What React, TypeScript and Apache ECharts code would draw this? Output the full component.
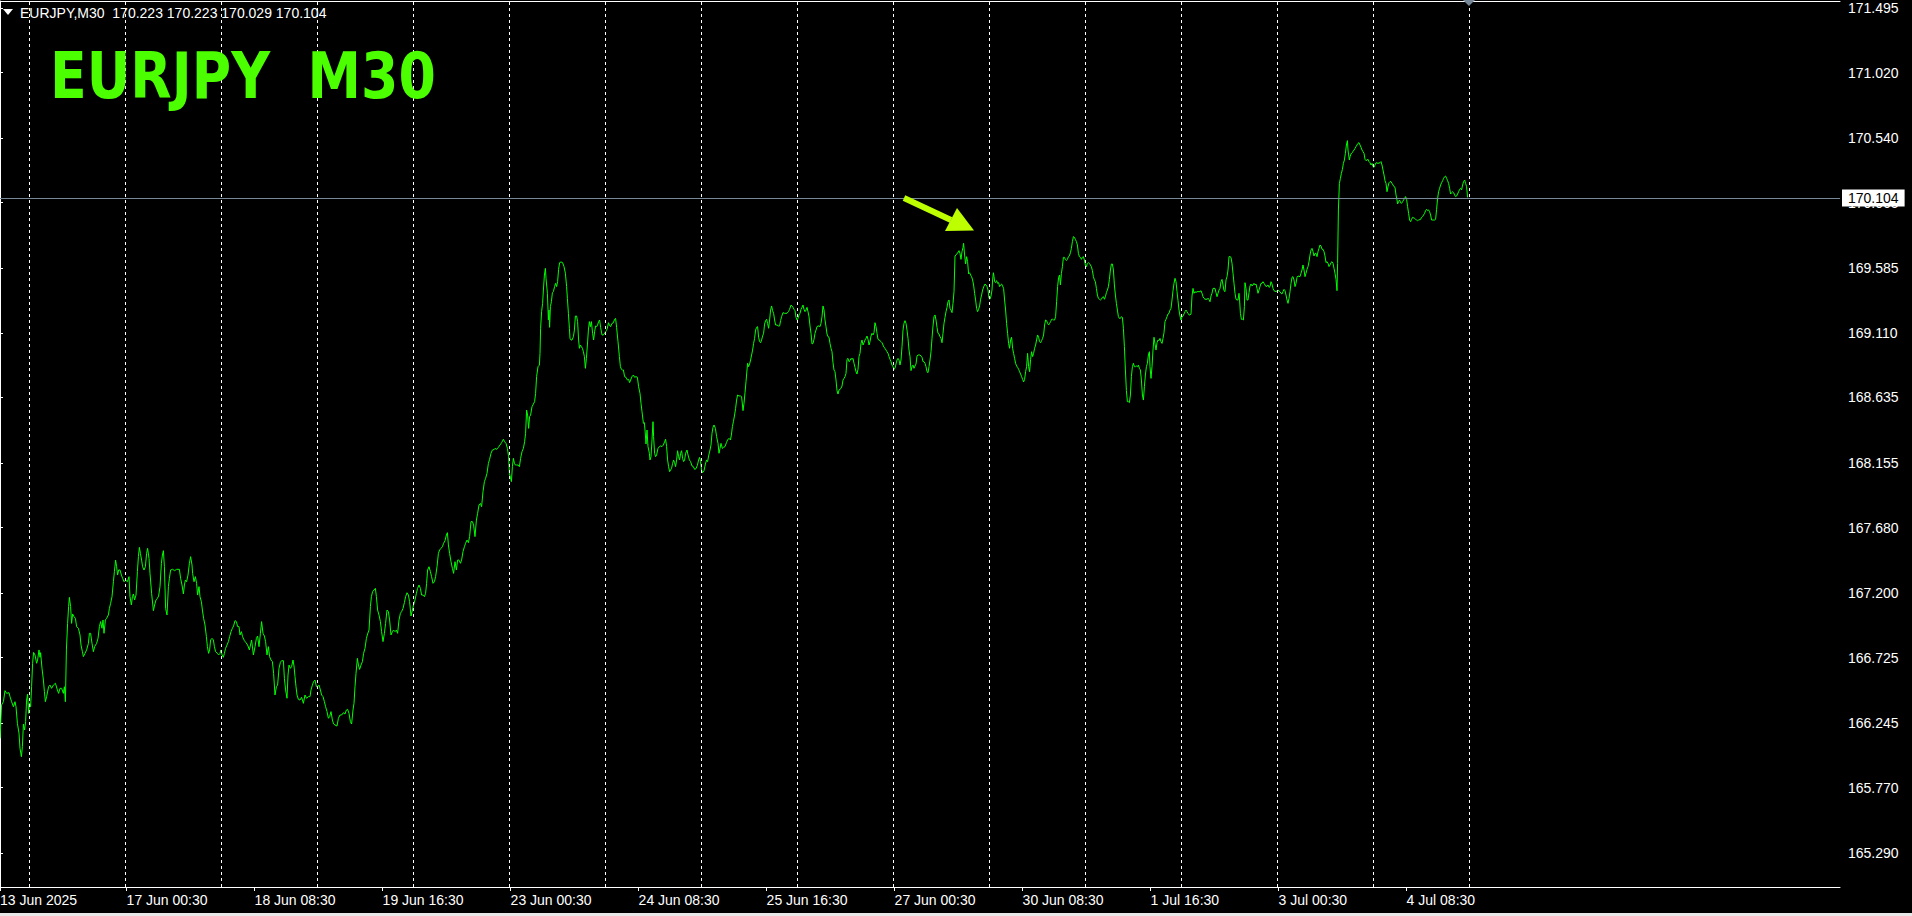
import React, { useEffect, useRef } from "react";
import * as echarts from "echarts";

// ---------- data ----------
const symbolName = "EURJPY";
const timeframe = "M30";
const lastBarOHLC = [170.223, 170.223, 170.029, 170.104];
const lastPrice = 170.104;
const priceMin = 165.0401;
const priceMax = 171.5464;
const barMax = 920; // visible bar slots (2 px per slot)

const priceTicks = [171.495, 171.02, 170.54, 170.065, 169.585, 169.11, 168.635, 168.155, 167.68, 167.2, 166.725, 166.245, 165.77, 165.29];

const timeLabelPos = [0, 63.3, 127.3, 191.3, 255.3, 319.3, 383.3, 447.3, 511.3, 575.3, 639.3, 703.3];
const timeLabels = ["13 Jun 2025", "17 Jun 00:30", "18 Jun 08:30", "19 Jun 16:30", "23 Jun 00:30", "24 Jun 08:30", "25 Jun 16:30", "27 Jun 00:30", "30 Jun 08:30", "1 Jul 16:30", "3 Jul 00:30", "4 Jul 08:30"];

const dayGridPos = [14.7, 62.7, 110.7, 158.7, 206.7, 254.7, 302.7, 350.7, 398.7, 446.7, 494.7, 542.7, 590.7, 638.7, 686.7, 734.7];

// [bar position, close]
const closeWeek1: number[][] = [
[0,166.132],[0.5,166.291],[0.8,166.377],[1.7,166.401],[2.5,166.482],[3.3,166.462],[4.5,166.467],[5,166.438],[5.8,166.401],[6.7,166.364],[7.5,166.401],[8,166.364],[8.7,166.242],[9.5,166.169],[10,166.058],[10.7,165.997],[11.2,166.071],[11.7,166.237],[12.3,166.193],[12.8,166.254],[13.3,166.413],[13.8,166.457],[14.3,166.315],[14.7,166.389],[15.3,166.364],[15.8,166.511],[16.3,166.683],[16.8,166.763],[17.5,166.744],[18.3,166.683],[18.8,166.707],[19.5,166.781],[20,166.727],[20.3,166.761],[21,166.646],[21.7,166.56],[22.2,166.475],[22.7,166.401],[23.3,166.438],[24.3,166.511],[25,166.523],[25.8,166.499],[26.7,166.523],[27.7,166.536],[28.7,166.487],[29.3,166.462],[30,166.499],[30.8,166.499],[31.7,166.462],[32.2,166.511],[32.7,166.401],[33.2,166.781],[33.8,166.976],[34.3,167.099],[34.7,167.167],[35.3,167.099],[35.8,166.976],[36.3,167.045],[37,167.025],[37.7,167.013],[38.3,166.952],[39.2,166.94],[40,166.891],[40.5,166.817],[41.2,166.768],[41.7,166.732],[42.5,166.756],[43.3,166.781],[44.2,166.829],[44.7,166.903],[45.3,166.903],[46,166.829],[46.7,166.768],[47.3,166.805],[48.3,166.829],[49,166.866],[49.7,166.952],[50.3,166.989],[51,166.94],[51.5,167.001],[52,166.903],[52.7,167.001],[53.3,167.013],[54.2,167.038],[54.7,167.086],[55.3,167.123],[56,167.172],[56.7,167.282],[57.2,167.356],[57.8,167.441],[58.3,167.392],[58.8,167.331],[59.3,167.368],[60,167.368],[60.7,167.331],[61.3,167.307],[62,167.282],[62.8,167.294],[63.7,167.282],[64.5,167.319],[65,167.172],[65.7,167.111],[66.2,167.172],[66.7,167.192],[67.3,167.148],[68,167.184],[68.7,167.356],[69.2,167.466],[69.7,167.534],[70.2,167.49],[70.8,167.441],[71.3,167.392],[72,167.368],[72.7,167.392],[73.3,167.49],[73.8,167.527],[74.5,167.454],[75,167.343],[75.8,167.197],[76.7,167.069],[77.3,167.111],[78,167.148],[78.7,167.16],[79.3,167.177],[80,167.246],[80.7,167.417],[81.2,167.478],[81.7,167.51],[82.2,167.392],[82.8,167.086],[83.5,167.038],[84.2,167.246],[84.7,167.307],[85.3,167.368],[86.3,167.373],[87.3,167.363],[88.3,167.373],[89.7,167.373],[90.3,167.307],[91,167.258],[91.7,167.192],[92.2,167.258],[92.7,167.294],[93.3,167.282],[94,167.331],[94.7,167.417],[95.3,167.466],[96,167.405],[96.3,167.343],[97,167.282],[97.7,167.319],[98.3,167.27],[98.8,167.184],[99.5,167.246],[100,167.172],[100.7,167.135],[101.2,167.074],[101.8,167.013],[102.5,166.964],[103.2,166.878],[103.7,166.805],[104.3,166.756],[104.8,166.781],[105.3,166.854],[106,166.866],[106.7,166.854],[107.2,166.805],[107.8,166.768],[108.7,166.756],[109.3,166.744],[110,166.756],[110.5,166.781],[111,166.744],[111.7,166.727],[112.2,166.756],[112.8,166.793],[113.5,166.817],[114.2,166.842],[114.8,166.878],[115.5,166.915],[116.2,166.94],[116.8,166.957],[117.5,166.996],[118.2,166.989],[118.8,166.952],[119.5,166.952],[120,166.891],[120.7,166.915],[121.3,166.878],[122.2,166.849],[123,166.834],[123.8,166.817],[124.7,166.781],
[125,166.78],[125.8,166.854],[126.7,166.744],[127.5,166.805],[128.2,166.866],[128.8,166.883],[129.5,166.805],[130.2,166.903],[130.8,166.989],[131.5,166.903],[132.2,166.883],[132.8,166.842],[133.5,166.744],[134.2,166.805],[134.8,166.732],[135.5,166.707],[136.2,166.695],[136.8,166.609],[137.5,166.45],[138.2,166.511],[138.8,166.523],[139.5,166.646],[140.2,166.69],[140.8,166.702],[141.7,166.702],[142.2,166.572],[142.8,166.487],[143.5,166.426],[144,166.597],[144.5,166.67],[145.2,166.646],[145.8,166.658],[146.5,166.707],[147,166.663],[147.5,166.585],[148,166.511],[148.5,166.45],[149.2,166.418],[150,166.413],[150.8,166.433],[151.7,166.389],[152.5,166.45],[153.3,166.426],[154.2,166.438],[155,166.438],[155.5,166.487],[156.2,166.523],[156.8,166.548],[157.5,166.56],[158.2,166.511],[158.8,166.511],[159.5,166.523],[160.2,166.487],[160.8,166.45],[161.5,166.438],[162.2,166.401],[162.8,166.364],[163.5,166.328],[164.2,166.279],[164.8,166.291],[165.5,166.328],[166.2,166.266],[166.8,166.237],[167.5,166.23],[168.5,166.222],[169.2,166.279],[170,166.303],[170.8,166.303],[171.7,166.32],[172.5,166.31],[173.2,166.34],[173.8,166.345],[174.5,166.315],[175.2,166.254],[175.8,166.237],[176.5,166.34],[177,166.389],[177.5,166.511],[178,166.609],[178.7,166.719],[179.2,166.67],[179.8,166.638],[180.5,166.67],[181.2,166.695],[181.8,166.756],[182.5,166.793],[183.2,166.866],[183.8,166.898],[184.5,166.927],[185.2,167.099],[185.7,167.172],[186.3,167.209],[187,167.221],[187.7,167.233],[188.2,167.172],[188.8,167.074],[189.5,167.037],[190.2,166.989],[190.8,166.915],[191.5,166.842],[192.2,166.903],[192.8,166.976],[193.5,167.074],[194.2,167.062],[194.8,167.001],[195.5,166.891],[196.2,166.915],[196.8,166.927],[197.5,166.915],[198.2,166.927],[198.8,166.903],[199.5,167.001],[200.2,167.05],[200.8,167.062],[201.5,167.086],[202.2,167.128],[202.8,167.172],[203.5,167.201],[204.2,167.184],[204.8,167.135],[205.5,167.03],[206.2,167.074],[206.8,167.111],[207.5,167.148],[208.2,167.197],[208.8,167.233],[209.5,167.258],[210.2,167.233],[210.8,167.184],[211.5,167.184],[212.2,167.172],[212.8,167.197],[213.3,167.27],[213.8,167.368],[214.5,167.392],[215.2,167.356],[215.8,167.319],[216.5,167.27],[217.2,167.282],[217.8,167.319],[218.5,167.392],[219.2,167.49],[219.8,167.515],[220.5,167.527],[221.2,167.539],[221.8,167.564],[222.5,167.583],[223.2,167.625],[223.7,167.642],[224.2,167.552],[224.8,167.49],[225.5,167.429],[226.2,167.38],[226.8,167.343],[227.5,167.429],[228.2,167.368],[228.8,167.441],[229.5,167.441],[230.2,167.417],[230.8,167.441],[231.5,167.503],[232.2,167.539],[232.8,167.564],[233.5,167.588],[234.2,167.569],[234.8,167.613],[235.5,167.723],[236.2,167.723],[236.8,167.698],[237.5,167.613],[238.2,167.735],[238.8,167.784],[239.5,167.845],[240.2,167.857],[240.8,167.833],[241.5,167.943],[242.2,168.017],[242.8,168.041],[243.5,168.078],[244.2,168.151],[244.8,168.181],[245.5,168.225],[246.2,168.249],[247.2,168.254],
[247.5,168.261],[248.3,168.254],[249.2,168.269],[250,168.286],[250.8,168.303],[251.7,168.328],[252.3,168.31],[253,168.298],[253.7,168.261],[254.3,168.2]
];

const closeWeek2: number[][] = [
[254.7,168.078],[255.2,168.049],[255.7,168.017],[256.2,168.127],[256.7,168.188],[257.2,168.151],[257.7,168.139],[258.3,168.139],[259,168.139],[259.7,168.127],[260.3,168.188],[261,168.237],[261.7,168.261],[262.3,168.31],[262.8,168.372],[263.3,168.543],[263.8,168.506],[264.3,168.408],[264.8,168.494],[265.3,168.506],[266,168.567],[266.7,168.587],[267.3,168.604],[267.8,168.665],[268.3,168.788],[269,168.861],[269.7,168.873],[270,168.959],[270.3,169.143],[270.8,169.265],[271.3,169.326],[271.7,169.424],[272.2,169.534],[272.7,169.583],[273,169.51],[273.7,169.4],[274.2,169.204],[274.5,169.277],[274.8,169.15],[275.2,169.302],[275.7,169.338],[276.2,169.405],[276.7,169.412],[277.3,169.449],[277.8,169.473],[278.3,169.449],[278.8,169.485],[279.3,169.576],[279.8,169.625],[280.5,169.63],[281.3,169.625],[282,169.596],[282.7,169.547],[283.3,169.449],[283.7,169.363],[284.2,169.253],[284.7,169.143],[285,169.069],[285.5,169.057],[286,169.057],[286.7,169.081],[287.2,169.13],[287.7,169.233],[288.3,169.233],[288.8,169.192],[289.3,169.057],[289.7,168.996],[290.2,169.02],[290.7,169.008],[291.2,168.996],[291.7,168.971],[292.2,168.935],[292.7,168.849],[293.2,168.922],[293.7,169.02],[294.2,169.13],[294.7,169.192],[295.2,169.155],[295.7,169.192],[296.3,169.106],[296.8,169.057],[297.3,169.118],[297.8,169.16],[298.3,169.155],[298.8,169.167],[299.3,169.192],[299.8,169.204],[300.3,169.15],[301,169.094],[301.7,169.094],[302.5,169.111],[303.2,169.126],[303.7,169.143],[304.2,169.184],[304.7,169.167],[305.3,169.155],[306,169.179],[306.7,169.184],[307.3,169.209],[307.8,169.216],[308.3,169.15],[309,169.045],[309.7,168.935],[310.2,168.861],[310.7,168.842],[311.2,168.837],[311.7,168.837],[312.3,168.788],[313,168.783],[313.7,168.763],[314.3,168.768],[314.8,168.744],[315.3,168.763],[316,168.788],[316.7,168.8],[317.3,168.783],[318,168.788],[318.7,168.783],[319.3,168.714],[320,168.665],[320.5,168.592],[321,168.531],[321.7,168.445],[322.2,168.45],[322.7,168.359],[323,168.293],[323.5,168.396],[324,168.274],[324.7,168.225],[325,168.176],[325.5,168.2],[326,168.323],[326.5,168.457],[326.8,168.347],[327.3,168.225],[327.8,168.2],[328.3,168.213],[329,168.261],[329.7,168.274],[330.3,168.279],[331,168.274],[331.7,168.286],[332.3,168.31],[332.8,168.328],[333.3,168.274],[333.8,168.176],[334.3,168.127],[334.8,168.09],[335.3,168.102],[335.8,168.115],[336.3,168.151],[336.8,168.176],[337.3,168.156],[337.8,168.127],[338.3,168.176],[338.8,168.244],[339.3,168.2],[339.8,168.176],[340.3,168.225],[340.8,168.244],[341.3,168.188],[341.8,168.164],[342.3,168.176],[342.8,168.225],[343.5,168.249],[344,168.213],[344.7,168.176],[345.3,168.164],[346,168.132],[346.7,168.127],[347.3,168.107],[348,168.112],[348.7,168.137],[349.3,168.176],[349.8,168.195],[350.3,168.164],[350.8,168.102],[351.3,168.083],[352,168.097],[352.7,168.146],[353.3,168.176],[353.8,168.164],[354.3,168.205],[355,168.249],[355.5,168.286],[356,168.372],[356.5,168.416],[357,168.433],[357.7,168.408],[358.3,168.347],[359,168.298],[359.5,168.225],[360,168.261],[360.5,168.298],[361.2,168.261],[361.8,168.269],[362.5,168.274],[363.2,168.303],[363.8,168.323],[364.5,168.335],[365.2,168.323],[365.7,168.359],[366.2,168.421],[366.7,168.457],[367.3,168.506],[367.8,168.555],[368.3,168.616],[368.8,168.653],[369.5,168.646],
[370.2,168.646],[370.8,168.641],[371.5,168.538],[372,168.592],[372.5,168.67],[373,168.751],[373.5,168.837],[373.8,168.886],[374.3,168.861],[374.8,168.881],[375.3,168.91],[375.8,168.947],[376.3,168.983],[376.8,169.032],[377.3,169.069],[377.8,169.13],[378.3,169.15],[378.8,169.155],[379.3,169.077],[379.8,169.045],[380.3,169.037],[380.8,169.057],[381.3,169.086],[381.8,169.106],[382.3,169.174],[382.8,169.199],[383.3,169.209],[383.8,169.179],[384.3,169.143],[384.8,169.204],[385.3,169.277],[385.8,169.307],[386.3,169.272],[386.8,169.253],[387.3,169.204],[387.8,169.167],[388.5,169.167],[389.2,169.16],[389.8,169.16],[390.3,169.199],[390.8,169.228],[391.5,169.258],[392.2,169.253],[393.5,169.253],[394.2,169.265],[394.8,169.282],[395.5,169.314],[396,169.307],[396.5,169.297],[397,169.282],[397.5,169.272],[398,169.223],[398.5,169.204],[399,169.216],[399.5,169.241],[400,169.253],[400.5,169.282],[401,169.297],[401.5,169.314],[402,169.282],[402.5,169.265],[403,169.277],[403.5,169.297],[404,169.265],[404.5,169.228],[405,169.16],[405.5,169.106],[406,169.028],[406.5,169.032],[407,169.062],[407.5,169.106],[408,169.13],[408.5,169.155],[409,169.16],[409.5,169.16],[410,169.155],[410.5,169.179],[411,169.228],[411.5,169.307],[412,169.277],[412.5,169.204],[413,169.155],[413.5,169.101],[414,169.081],[414.5,169.077],[415,169.032],[415.5,168.996],[416,168.971],[416.5,168.89],[417,168.837],[417.5,168.824],[418,168.763],[418.5,168.685],[419,168.66],[419.5,168.69],[420,168.695],[420.5,168.702],[421,168.719],[421.5,168.763],[422,168.775],[422.5,168.788],[423,168.812],[423.5,168.915],[424,168.922],[424.5,168.898],[425,168.905],[425.5,168.922],[426,168.915],[426.5,168.922],[427,168.886],[427.5,168.856],[428,168.824],[428.5,168.807],[429,168.842],[429.5,168.935],[430,168.959],[430.5,169.032],[431,169.057],[431.5,169.02],[432,169.037],[432.5,169.057],[433,169.069],[433.5,169.086],[434,169.062],[434.5,169.02],[435,169.045],[435.5,169.086],[436,169.106],[436.5,169.094],[437,169.111],[437.5,169.184],[438,169.155],[438.5,169.106],[439,169.062],[439.5,169.057],[440,169.052],[440.5,169.045],[441,169.037],[441.5,169.02],[442,169.003],[442.5,168.996],[443,168.983],[443.5,168.971],[444,168.959],[444.5,168.935],[445,168.915],[445.5,168.898],[446,168.873],[446.5,168.861],[447,168.842],[447.5,168.849],[448,168.881],[448.5,168.91],[449,168.922],[449.5,168.91],[450,168.873],[450.5,168.91],[451,169.008],[451.5,169.13],[452,169.179],[452.5,169.199],[453,169.179],[453.5,169.13],[454,169.069],[454.5,168.983],[455,168.935],[455.5,168.832],[456,168.861],[456.5,168.873],[457,168.849],[457.5,168.866],[458,168.881],[458.5,168.939],[459,168.947],[460,168.947],[460.5,168.939],[461,168.93],[461.5,168.898],[462,168.898],[462.5,168.886],[463,168.861],[463.5,168.824],[464,168.817],[464.5,168.861],[465,168.91],[465.5,168.971],[466,169.069],[466.5,169.16],[467,169.228],[467.5,169.241],[468,169.204],[468.5,169.15],[469,169.106],[469.5,169.101],[470,169.081],[470.5,169.069],[471,169.037],[471.5,169.106],[472,169.179],[472.5,169.223],[473,169.265],[473.5,169.297],[474,169.338],[474.5,169.351],[475,169.289],[475.5,169.277],[476,169.258],[476.5,169.326],[477,169.412],[477.5,169.674],[478,169.681],[478.5,169.693],[479,169.698],[479.5,169.713],[480,169.693],[480.5,169.649],[481,169.706],[481.5,169.737],[481.8,169.767],[482.3,169.681],[482.8,169.615],[483.3,169.669],[483.8,169.632],[484.3,169.542],[484.8,169.551],[485.3,169.534],[485.8,169.522],[486.3,169.498],[486.8,169.461],[487.3,169.4],[487.8,169.351],[488.3,169.289],[488.8,169.265],[489.3,169.282],[489.8,169.307],[490.3,169.356],[490.8,169.387],[491.3,169.424],[492,169.453],[492.5,169.468],[493,169.461],[493.5,169.449],[494,169.424],[494.5,169.363]
];

const closeWeek3: number[][] = [
[495,169.356],[495.5,169.38],[496,169.424],[496.3,169.498],[496.7,169.551],[497,169.522],[497.3,169.485],[497.8,169.478],[498.3,169.493],[498.8,169.473],[499.3,169.478],[499.8,169.449],[500.3,169.461],[500.8,169.468],[501.3,169.453],[501.8,169.436],[502.3,169.351],[502.8,169.277],[503.3,169.179],[503.8,169.106],[504.3,169.032],[504.8,168.996],[505.3,169.057],[505.8,169.077],[506.3,168.996],[506.8,168.959],[507.3,168.922],[507.8,168.886],[508.3,168.866],[508.8,168.856],[509.3,168.842],[509.8,168.824],[510.3,168.807],[510.8,168.788],[511.3,168.768],[511.8,168.749],[512.3,168.768],[512.8,168.824],[513.3,168.861],[513.8,168.959],[514.3,168.861],[514.8,168.824],[515.3,168.915],[515.8,168.971],[516.3,168.935],[516.8,168.959],[517.3,168.996],[517.8,169.02],[518.3,169.057],[518.8,169.094],[519.3,169.077],[519.8,169.045],[520.3,169.037],[520.8,169.052],[521.3,169.069],[521.8,169.094],[522.3,169.167],[522.8,169.204],[523.3,169.199],[523.8,169.179],[524.3,169.167],[524.8,169.179],[525.3,169.192],[525.8,169.209],[526.3,169.209],[526.8,169.204],[527.3,169.204],[527.8,169.228],[528.3,169.338],[528.8,169.449],[529.3,169.517],[529.8,169.534],[530.2,169.461],[530.7,169.546],[531.2,169.595],[531.7,169.664],[532.2,169.664],[532.7,169.649],[533.2,169.64],[533.7,169.649],[534.2,169.669],[534.7,169.674],[535.2,169.698],[535.7,169.73],[536.2,169.779],[536.7,169.816],[537.2,169.811],[537.7,169.796],[538.2,169.779],[538.7,169.755],[539.2,169.693],[539.7,169.669],[540.2,169.664],[540.7,169.649],[541.2,169.664],[541.7,169.669],[542.2,169.644],[542.7,169.608],[543.2,169.595],[543.7,169.62],[544.2,169.625],[544.7,169.62],[545.2,169.608],[545.7,169.595],[546.2,169.566],[546.7,169.522],[547.2,169.498],[547.7,169.485],[548.2,169.436],[548.7,169.387],[549.2,169.363],[549.7,169.356],[550.2,169.351],[550.7,169.356],[551.2,169.37],[551.7,169.375],[552.2,169.356],[552.7,169.375],[553.2,169.405],[553.7,169.424],[554.2,169.449],[554.7,169.502],[555.2,169.571],[555.7,169.615],[556.2,169.615],[556.7,169.571],[557.2,169.461],[557.7,169.387],[558.2,169.326],[558.7,169.277],[559.2,169.228],[559.7,169.216],[560.2,169.216],[560.7,169.228],[561.2,169.223],[561.7,169.143],[562.2,169.008],[562.7,168.837],[563.2,168.685],[563.7,168.604],[564.2,168.604],[564.7,168.597],[565.2,168.653],[565.7,168.788],[566.2,168.861],[566.7,168.886],[567.2,168.861],[567.7,168.861],[568.2,168.866],[568.7,168.861],[569.2,168.873],[569.7,168.849],[570.2,168.837],[570.7,168.763],[571.2,168.653],[571.7,168.616],[572.2,168.714],[572.7,168.8],[573.2,168.861],[573.7,168.886],[574.2,168.947],[574.7,168.971],[575,168.861],[575.5,168.775],[576,168.861],[576.5,168.983],[577,169.077],[577.5,169.028],[578,168.983],[578.5,169.037],[579,169.057],[579.5,169.052],[580,169.069],[580.5,169.045],[581,169.032],[581.5,169.069],[582,169.111],[582.5,169.192],[583,169.209],[583.5,169.228],[584,169.248],[584.5,169.253],[585,169.277],[585.5,169.289],[586,169.351],[586.5,169.419],[587,169.473],[587.5,169.51],[588,169.485],[588.5,169.412],[589,169.346],[589.5,169.277],[590,169.233],[590.5,169.204],[591,169.228],[591.5,169.233],[592,169.248],[592.5,169.265],[593,169.277],[593.5,169.265],[594,169.253],[594.5,169.241],[595,169.241],[595.5,169.248],[596,169.38],[596.5,169.436],[597,169.4],[597.5,169.412],[598,169.405],[598.5,169.412],[600,169.412],[600.5,169.419],[601,169.4],[601.5,169.375],[602,169.363],[602.5,169.356],[603.5,169.356],[604,169.363],[604.5,169.356],[605,169.338],[605.5,169.38],[606,169.4],[606.5,169.436],[607.5,169.436],[608,169.405],[608.5,169.375],[609,169.4],[609.5,169.424],[610,169.436],[610.5,169.485],[611,169.502],[611.5,169.461],[612,169.419],[612.5,169.412],[613,169.498],[613.5,169.522],[614,169.571],[614.5,169.669],
[615,169.669],[615.5,169.664],[616,169.62],[616.5,169.547],[617,169.473],[617.5,169.4],[618,169.356],[618.5,169.351],[619,169.351],[619.5,169.4],[619.8,169.351],[620.2,169.253],[620.7,169.209],[621.2,169.209],[621.7,169.204],[622.2,169.302],[622.5,169.478],[623,169.436],[623.5,169.351],[624,169.351],[624.5,169.405],[625,169.454],[625.5,169.468],[626,169.454],[626.5,169.461],[627,169.473],[627.5,169.461],[628,169.468],[628.5,169.436],[629,169.4],[629.5,169.424],[630,169.449],[630.5,169.473],[631,169.473],[631.5,169.485],[632,169.473],[632.5,169.461],[633,169.449],[633.5,169.454],[634,169.461],[634.5,169.444],[635,169.449],[635.5,169.485],[636,169.468],[636.5,169.436],[637,169.419],[638,169.412],[639,169.424],[640,169.412],[640.5,169.4],[641,169.395],[641.5,169.412],[642,169.429],[642.5,169.419],[643,169.387],[643.5,169.351],[644,169.326],[644.5,169.363],[645,169.412],[645.5,169.473],[646,169.517],[646.5,169.522],[647,169.498],[647.5,169.449],[648,169.473],[648.5,169.517],[649,169.527],[650,169.522],[650.5,169.547],[651,169.571],[651.5,169.608],[652,169.571],[652.5,169.522],[653,169.547],[653.5,169.576],[654,169.596],[654.5,169.632],[655,169.681],[655.5,169.718],[656,169.73],[656.5,169.706],[657,169.674],[657.5,169.693],[658,169.693],[658.5,169.669],[659,169.706],[659.5,169.73],[660,169.755],[660.5,169.747],[661,169.723],[661.5,169.723],[662,169.706],[662.5,169.674],[663,169.625],[663.5,169.632],[664,169.62],[664.5,169.596],[665,169.608],[665.5,169.625],[666,169.632],[666.5,169.62],[667,169.583],[667.5,169.547],[668,169.503],[668.5,169.419],[668.8,169.62],[669.2,170.012],[669.7,170.207],[670.2,170.244],[670.7,170.281],[671.2,170.31],[671.7,170.354],[672.2,170.379],[672.7,170.428],[673.2,170.489],[673.7,170.521],[674,170.452],[674.3,170.416],[674.7,170.379],[675,170.403],[675.5,170.423],[676,170.433],[676.5,170.44],[677,170.452],[677.5,170.464],[678,170.477],[678.5,170.489],[679,170.501],[679.5,170.506],[680,170.489],[680.5,170.472],[681,170.452],[681.5,170.44],[682,170.428],[682.5,170.384],[683,170.374],[683.5,170.379],[684,170.384],[684.5,170.367],[685,170.359],[685.5,170.342],[686,170.354],[686.5,170.33],[687,170.325],[687.5,170.342],[688,170.359],[689,170.354],[690,170.359],[690.5,170.367],[691,170.342],[691.5,170.305],[692,170.269],[692.5,170.227],[693,170.207],[693.5,170.146],[694,170.183],[694.5,170.212],[695,170.22],[695.5,170.22],[696,170.207],[696.5,170.195],[697,170.183],[697.5,170.178],[698,170.122],[698.5,170.085],[698.8,170.056],[699.3,170.073],[699.8,170.085],[700.3,170.065],[700.8,170.061],[701.3,170.073],[701.8,170.085],[702.3,170.097],[702.8,170.11],[703.3,170.09],[703.8,170.036],[704.3,169.987],[704.8,169.938],[705.3,169.926],[705.8,169.943],[706.3,169.958],[707.3,169.95],[707.8,169.943],[708.3,169.938],[708.8,169.933],[709.3,169.938],[710.3,169.943],[710.8,169.958],[711.3,169.963],[711.8,169.975],[712.3,169.987],[712.8,170.007],[713.3,170.017],[713.8,170.007],[714.3,170.012],[714.8,169.999],[715.3,169.975],[715.8,169.938],[717.3,169.938],[717.8,169.943],[718.3,170.017],[718.8,170.097],[719.3,170.146],[719.8,170.171],[720.3,170.195],[720.8,170.212],[721.3,170.227],[721.8,170.244],[722.3,170.256],[722.8,170.261],[723.3,170.244],[723.8,170.227],[724.3,170.207],[724.8,170.171],[725.3,170.129],[725.8,170.139],[726.3,170.146],[726.8,170.139],[727.3,170.122],[727.8,170.11],[728.3,170.114],[728.8,170.129],[729.3,170.146],[729.8,170.163],[730.3,170.171],[730.8,170.159],[731.3,170.195],[731.8,170.22],[732.3,170.232],[732.8,170.207],[733.3,170.183],[733.8,170.104]
];

// ---------- chart ----------
const WHITE = "#ffffff";
const AXIS_FONT = "'Liberation Sans', Arial, sans-serif";

function buildOption() {
  const closes = [...closeWeek1, ...closeWeek2, ...closeWeek3];
  const headerText = `${symbolName},${timeframe}  ${lastBarOHLC.map((v) => v.toFixed(3)).join(" ")}`;
  return {
    animation: false,
    backgroundColor: "#000000",
    grid: { left: 0, right: 72, top: 1, bottom: 29, containLabel: false, outerBoundsMode: "none" },
    xAxis: [
      {
        type: "value",
        position: "bottom",
        min: 0,
        max: barMax,
        axisLine: { show: true, lineStyle: { color: WHITE, width: 1 } },
        axisTick: { show: true, customValues: timeLabelPos, length: 4, lineStyle: { color: WHITE } },
        axisLabel: {
          show: true,
          customValues: timeLabelPos,
          formatter: (v: number) => {
            const i = timeLabelPos.findIndex((p) => Math.abs(p - v) < 0.01);
            return i >= 0 ? timeLabels[i] : "";
          },
          align: "left",
          color: WHITE,
          fontSize: 14,
          fontFamily: AXIS_FONT,
          margin: 6,
          showMinLabel: true,
          showMaxLabel: true,
        },
        splitLine: { show: false },
      },
      {
        type: "value",
        position: "top",
        min: 0,
        max: barMax,
        axisLine: { show: true, lineStyle: { color: WHITE, width: 1 } },
        axisTick: { show: false },
        axisLabel: { show: false },
        splitLine: { show: false },
      },
    ],
    yAxis: {
      type: "value",
      position: "right",
      min: priceMin,
      max: priceMax,
      axisLine: { show: true, lineStyle: { color: WHITE, width: 1 } },
      axisTick: { show: true, customValues: priceTicks, length: 3, lineStyle: { color: WHITE } },
      axisLabel: {
        show: true,
        customValues: priceTicks,
        formatter: (v: number) => v.toFixed(3),
        color: WHITE,
        fontSize: 14,
        fontFamily: AXIS_FONT,
        margin: 8,
      },
      splitLine: { show: false },
    },
    series: [
      {
        name: "dayGrid",
        type: "line",
        data: [],
        z: 1,
        silent: true,
        markLine: {
          silent: true,
          symbol: ["none", "none"],
          label: { show: false },
          lineStyle: { color: WHITE, type: [3, 3], width: 1 },
          data: dayGridPos.map((v) => ({ xAxis: v })),
        },
      },
      {
        name: "lastPrice",
        type: "line",
        data: [],
        z: 2,
        silent: true,
        markLine: {
          silent: true,
          symbol: ["none", "none"],
          lineStyle: { color: "#778899", type: "solid", width: 1 },
          label: {
            show: true,
            position: "end",
            distance: 2,
            formatter: lastPrice.toFixed(3),
            backgroundColor: WHITE,
            color: "#000000",
            fontSize: 14,
            fontFamily: AXIS_FONT,
            padding: [2, 6, 1, 6],
          },
          data: [{ yAxis: lastPrice }],
        },
      },
      {
        name: `${symbolName} ${timeframe}`,
        type: "line",
        data: closes,
        z: 3,
        symbol: "none",
        showSymbol: false,
        lineStyle: { color: "#00ff00", width: 1 },
      },
    ],
    graphic: [
      { type: "polygon", z: 10, shape: { points: [[3, 9], [13, 9], [8, 15]] }, style: { fill: WHITE } },
      {
        type: "text",
        z: 10,
        x: 20,
        y: 13,
        style: { text: headerText, fill: WHITE, font: `14px ${AXIS_FONT}`, verticalAlign: "middle", align: "left" },
      },
      {
        type: "text",
        z: 10,
        x: 50,
        y: 76,
        scaleX: 0.84,
        style: {
          text: `${symbolName}  ${timeframe}`,
          fill: "#4cff00",
          font: "bold 64px 'DejaVu Sans', Verdana, sans-serif",
          verticalAlign: "middle",
          align: "left",
        },
      },
      { type: "line", z: 10, shape: { x1: 904, y1: 198, x2: 951, y2: 220 }, style: { stroke: "#bdff00", lineWidth: 6 } },
      { type: "polygon", z: 10, shape: { points: [[957, 208], [974, 230.5], [945, 231]] }, style: { fill: "#bdff00" } },
      { type: "polygon", z: 10, shape: { points: [[1463, 0], [1475, 0], [1469, 6]] }, style: { fill: "#778899" } },
      { type: "rect", z: 10, shape: { x: 0, y: 913, width: 1912, height: 3 }, style: { fill: "#e8e8e8" } },
    ],
  };
}

export default function App() {
  const ref = useRef<HTMLDivElement>(null);
  useEffect(() => {
    if (!ref.current) return;
    const chart = echarts.init(ref.current, null, { renderer: "svg" });
    chart.setOption(buildOption() as any);
    return () => chart.dispose();
  }, []);
  return (
    <div
      ref={ref}
      style={{ position: "fixed", left: 0, top: 0, width: 1912, height: 916, background: "#000" }}
    />
  );
}
